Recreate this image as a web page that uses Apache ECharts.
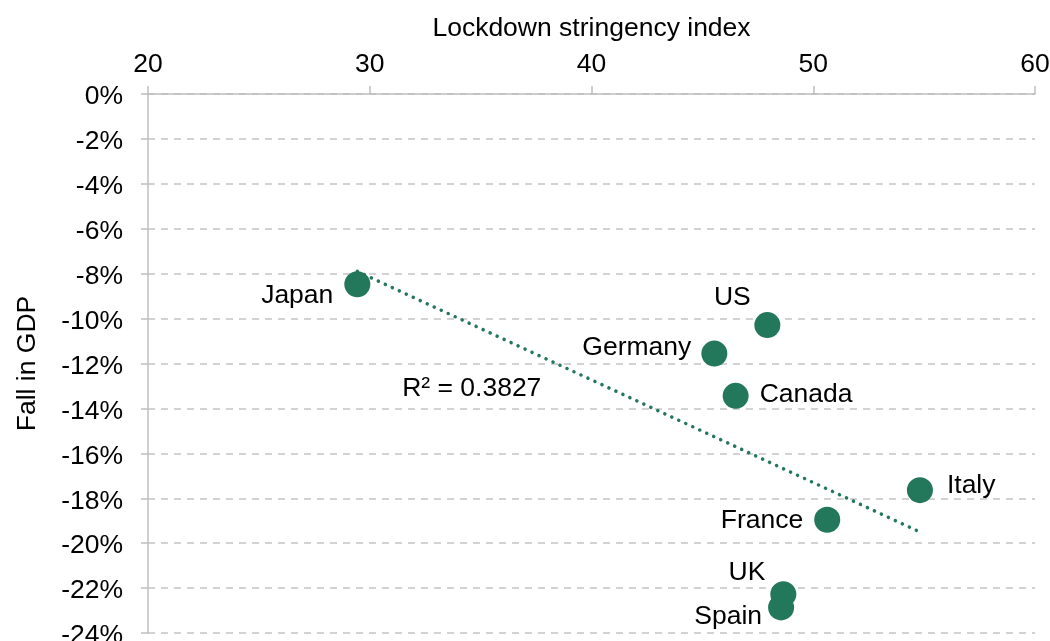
<!DOCTYPE html>
<html>
<head>
<meta charset="utf-8">
<script src="https://cdn.jsdelivr.net/npm/echarts@6/dist/echarts.min.js"></script>
<style>
  html, body { margin: 0; padding: 0; background: #fff; }
  #chart { width: 1050px; height: 641px; }
</style>
</head>
<body>
<div id="chart"></div>
<script>
// Data
const countries = ["Japan", "US", "Germany", "Canada", "Italy", "France", "UK", "Spain"];
const stringency = [29.44, 47.93, 45.54, 46.50, 54.81, 50.63, 48.65, 48.55];
const gdpFall = [-8.47, -10.29, -11.56, -13.44, -17.64, -18.96, -22.27, -22.86];

// label placement: [dx, dy, align] relative to the marker centre
const labelPlace = [
  [-24, 11, "right"],
  [-35, -27, "center"],
  [-23, -6, "right"],
  [24, -1, "left"],
  [27, -4, "left"],
  [-24, 1, "right"],
  [-18, -21, "right"],
  [-19, 9, "right"]
];

// Linear trendline end points (as drawn)
const trendX = [29.44, 54.81];
const trendY = [-7.9, -19.5];
const r2Text = "R² = 0.3827";
const r2Pos = [34.6, -13.1];

const xTicks = [20, 60, 10];
const yTicks = [-24, 0, 2];

const green = "#23775a";
const font = "'Liberation Sans', Arial, sans-serif";
const fs = 26.5;

const chart = echarts.init(document.getElementById("chart"), null, { renderer: "canvas" });

const points = countries.map((c, i) => ({
  value: [stringency[i], gdpFall[i]],
  name: c,
  label: {
    show: true,
    position: "inside",
    color: "#000",
    align: labelPlace[i][2],
    offset: [labelPlace[i][0], labelPlace[i][1]],
    formatter: c
  }
}));

const option = {
  animation: false,
  grid: { left: 148, right: 15, top: 94, bottom: 8, outerBoundsMode: "none", containLabel: false },
  xAxis: {
    type: "value",
    position: "top",
    min: xTicks[0],
    max: xTicks[1],
    interval: xTicks[2],
    name: "Lockdown stringency index",
    nameLocation: "middle",
    nameGap: 52,
    nameTextStyle: { color: "#000", fontSize: fs, fontFamily: font },
    axisLine: { show: true, onZero: false, lineStyle: { color: "#bfbfbf", width: 1.5 } },
    axisTick: { show: true, length: 8, lineStyle: { color: "#bfbfbf", width: 1.5 } },
    axisLabel: { color: "#000", fontSize: fs, fontFamily: font, margin: 16 },
    splitLine: { show: false }
  },
  yAxis: {
    type: "value",
    min: yTicks[0],
    max: yTicks[1],
    interval: yTicks[2],
    name: "Fall in GDP",
    nameLocation: "middle",
    nameGap: 107,
    nameRotate: 90,
    nameTextStyle: { color: "#000", fontSize: fs, fontFamily: font },
    axisLine: { show: true, onZero: false, lineStyle: { color: "#bfbfbf", width: 1.5 } },
    axisTick: { show: true, length: 7, lineStyle: { color: "#bfbfbf", width: 1.5 } },
    axisLabel: {
      color: "#000", fontSize: fs, fontFamily: font, margin: 25,
      verticalAlign: "top", lineHeight: 6,
      formatter: (v) => v + "%"
    },
    splitLine: { show: true, lineStyle: { color: "#c4c4c4", width: 1.5, type: [7, 6] } }
  },
  series: [
    {
      type: "line",
      data: trendX.map((x, i) => [x, trendY[i]]),
      symbol: "none",
      silent: true,
      z: 1,
      lineStyle: { color: green, width: 3.5, type: [0.1, 7.6], cap: "round" }
    },
    {
      type: "scatter",
      data: points,
      symbol: "circle",
      symbolSize: 26,
      silent: true,
      z: 3,
      itemStyle: { color: green, opacity: 1 },
      label: { color: "#000", fontSize: fs, fontFamily: font, verticalAlign: "middle" }
    },
    {
      type: "scatter",
      data: [r2Pos],
      symbolSize: 0,
      silent: true,
      itemStyle: { opacity: 1 },
      label: {
        show: true,
        position: "inside",
        formatter: r2Text,
        color: "#000",
        fontSize: fs,
        fontFamily: font
      }
    }
  ]
};

chart.setOption(option);
</script>
</body>
</html>
